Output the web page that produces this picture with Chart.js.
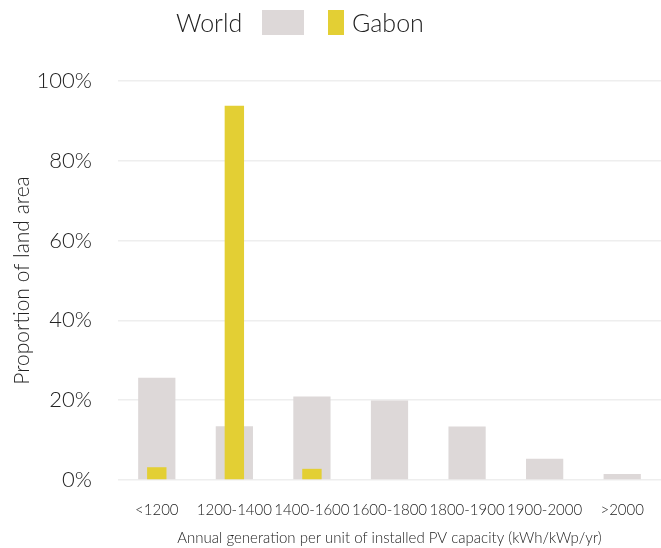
<!DOCTYPE html>
<html>
<head>
<meta charset="utf-8">
<script src="https://cdn.jsdelivr.net/npm/chart.js@4/dist/chart.umd.min.js"></script>
<style>
  html, body { margin: 0; padding: 0; background: #fff; }
  #wrap { position: relative; width: 661px; height: 548px; }
  #legende {
    position: absolute; top: 6px; left: 0; width: 661px; height: 32px;
    font-family: "Lato", sans-serif; font-weight: 300; font-size: 25px; color: #222;
  }
  #legende span { position: absolute; top: 0; line-height: 32px; }
  #legende .boite { height: 25px; top: 4px; }
</style>
</head>
<body>
<div id="wrap">
  <div id="legende">
    <span style="left:176px">World</span>
    <span class="boite" style="left:262px;width:42px;background:#ddd8d8"></span>
    <span class="boite" style="left:328px;width:16px;background:#e3cf34"></span>
    <span style="left:352px">Gabon</span>
  </div>
  <canvas id="graph" width="661" height="548"></canvas>
</div>
<script>
// === DONNEES ===
const categories = ["<1200", "1200-1400", "1400-1600", "1600-1800", "1800-1900", "1900-2000", ">2000"];
const monde = [25.6, 13.5, 20.9, 19.9, 13.4, 5.3, 1.5];
const gabon = [3.2, 93.8, 2.8, 0, 0, 0, 0];
const ticksY = [0, 20, 40, 60, 80, 100];

const police = "Lato";
const texte = "#222";

// === GRAPHIQUE ===
const ctx = document.getElementById("graph").getContext("2d");
new Chart(ctx, {
  type: "bar",
  data: {
    labels: categories,
    datasets: [
      {
        label: "Gabon",
        data: gabon,
        backgroundColor: "#e3cf34",
        grouped: false,
        categoryPercentage: 1,
        barPercentage: 0.25,
        order: 0
      },
      {
        label: "World",
        data: monde,
        backgroundColor: "#ddd8d8",
        grouped: false,
        categoryPercentage: 1,
        barPercentage: 0.48,
        order: 1
      }
    ]
  },
  options: {
    responsive: false,
    animation: false,
    layout: { padding: { top: 81, right: 0, bottom: 0, left: 0 } },
    plugins: {
      legend: { display: false },
      tooltip: { enabled: false }
    },
    scales: {
      x: {
        afterFit: axis => { axis.height = 68; },
        grid: { display: false },
        border: { display: false },
        ticks: { color: texte, font: { family: police, size: 15, weight: 300 }, padding: 13, maxRotation: 0, autoSkip: false },
        title: { display: true, text: "Annual generation per unit of installed PV capacity (kWh/kWp/yr)", color: texte, font: { family: police, size: 15, weight: 300 }, padding: { top: 0, bottom: 1 } }
      },
      y: {
        min: 0,
        max: 100,
        afterFit: axis => { axis.width = 118; },
        afterBuildTicks: axis => { axis.ticks = ticksY.map(v => ({ value: v })); },
        grid: { color: "#eeeeee", lineWidth: 1.5, drawTicks: false },
        border: { display: false },
        ticks: { color: texte, font: { family: police, size: 22, weight: 300 }, padding: 26, callback: v => v + "%" },
        title: { display: true, text: "Proportion of land area", color: texte, font: { family: police, size: 21, weight: 300 }, padding: { top: 10, bottom: 0 } }
      }
    }
  }
});
</script>
</body>
</html>
